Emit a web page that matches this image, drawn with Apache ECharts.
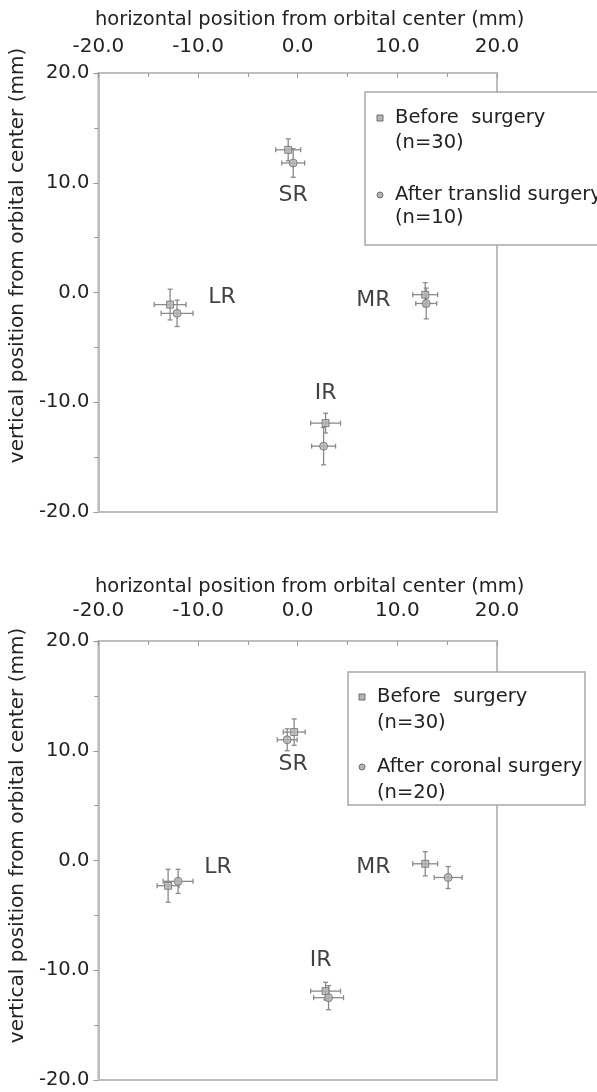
<!DOCTYPE html>
<html>
<head>
<meta charset="utf-8">
<script src="https://cdn.jsdelivr.net/npm/echarts@6/dist/echarts.min.js"></script>
<style>
html,body{margin:0;padding:0;background:#fff;}
#c{width:597px;height:1092px;}
</style>
</head>
<body>
<div id="c"></div>
<script>
// ---- data (mm) : order SR, LR, MR, IR ----
const muscles = ['SR', 'LR', 'MR', 'IR'];
const xTicks = ['-20.0', '-10.0', '0.0', '10.0', '20.0'];

// Panel 1: translid surgery
const translidBefore = [[-0.95, 13.0], [-12.8, -1.1], [12.8, -0.2], [2.8, -11.9]];
const translidBeforeErrX = [1.25, 1.6, 1.25, 1.5];
const translidBeforeErrY = [1.0, 1.4, 1.1, 0.9];
const translidAfter = [[-0.45, 11.8], [-12.1, -1.9], [12.9, -1.0], [2.6, -14.0]];
const translidAfterErrX = [1.15, 1.6, 1.05, 1.2];
const translidAfterErrY = [1.3, 1.2, 1.4, 1.7];
const translidLabelAt = [[-0.45, 8.9], [-7.6, -0.4], [7.6, -0.7], [2.8, -9.2]];

// Panel 2: coronal surgery
const coronalBefore = [[-0.35, 11.7], [-13.0, -2.3], [12.8, -0.3], [2.8, -11.9]];
const coronalBeforeErrX = [1.1, 1.1, 1.25, 1.5];
const coronalBeforeErrY = [1.2, 1.5, 1.1, 0.8];
const coronalAfter = [[-1.05, 11.0], [-12.0, -1.9], [15.1, -1.55], [3.1, -12.5]];
const coronalAfterErrX = [1.0, 1.5, 1.4, 1.5];
const coronalAfterErrY = [1.0, 1.1, 1.0, 1.1];
const coronalLabelAt = [[-0.45, 8.8], [-8.0, -0.6], [7.6, -0.6], [2.3, -9.1]];

const legend1 = ['Before  surgery', '(n=30)', 'After translid surgery', '(n=10)'];
const legend2 = ['Before  surgery', '(n=30)', 'After coronal surgery', '(n=20)'];

const xName = 'horizontal position from orbital center (mm)';
const yName = 'vertical position from orbital center (mm)';

// ---- styling ----
const FONT = "'DejaVu Sans', 'Liberation Sans', Arial, sans-serif";
const TXT = '#222';
const AXIS = '#bdbdbd';
const BAR = '#8a8a8a';
const FILL = '#b4b4b4';
const EDGE = '#6e6e6e';

function withErr(pts, ex, ey) { return pts.map((p, i) => [p[0], p[1], ex[i], ey[i]]); }

function errRender(params, api) {
  const x = api.value(0), y = api.value(1), ex = api.value(2), ey = api.value(3);
  const l = api.coord([x - ex, y]), r = api.coord([x + ex, y]);
  const t = api.coord([x, y + ey]), b = api.coord([x, y - ey]);
  const cap = 2.5;
  const st = { stroke: BAR, lineWidth: 1.3 };
  const ln = (x1, y1, x2, y2) => ({ type: 'line', shape: { x1, y1, x2, y2 }, style: st });
  return {
    type: 'group', children: [
      ln(l[0], l[1], r[0], r[1]),
      ln(t[0], t[1], b[0], b[1]),
      ln(l[0], l[1] - cap, l[0], l[1] + cap),
      ln(r[0], r[1] - cap, r[0], r[1] + cap),
      ln(t[0] - cap, t[1], t[0] + cap, t[1]),
      ln(b[0] - cap, b[1], b[0] + cap, b[1])
    ]
  };
}

const GRID_L = 98, GRID_W = 399, GRID_H = 439;
const grids = [
  { left: GRID_L, top: 73, width: GRID_W, height: GRID_H, show: true, borderColor: AXIS, borderWidth: 2, backgroundColor: '#fff' },
  { left: GRID_L, top: 641, width: GRID_W, height: GRID_H, show: true, borderColor: AXIS, borderWidth: 2, backgroundColor: '#fff' }
];

function xAxis(gi) {
  return {
    gridIndex: gi, type: 'value', position: 'top', min: -20, max: 20, interval: 10,
    name: xName, nameLocation: 'middle', nameGap: gi === 0 ? 43 : 44,
    nameTextStyle: { fontFamily: FONT, fontSize: 19.5, color: TXT, padding: [0, 0, 0, 24] },
    axisLine: { show: true, onZero: false, lineStyle: { color: AXIS, width: 2 } },
    axisTick: { show: true, inside: true, length: 5, lineStyle: { color: '#999' } },
    minorTick: { show: true, splitNumber: 2, length: 4, lineStyle: { color: '#999' } },
    splitLine: { show: false },
    axisLabel: { fontFamily: FONT, fontSize: 20, color: TXT, margin: gi === 0 ? 16 : 20,
      formatter: v => xTicks[Math.round((v + 20) / 10)] }
  };
}
function yAxis(gi) {
  return {
    gridIndex: gi, type: 'value', min: -20, max: 20, interval: 10,
    name: yName, nameLocation: 'middle', nameGap: 66,
    nameTextStyle: { fontFamily: FONT, fontSize: 20, color: TXT, padding: [0, 0, 0, gi === 0 ? 74 : 50] },
    axisLine: { show: true, onZero: false, lineStyle: { color: AXIS, width: 2 } },
    axisTick: { show: true, inside: false, length: 5, lineStyle: { color: '#999' } },
    minorTick: { show: true, splitNumber: 2, length: 4, lineStyle: { color: '#999' } },
    splitLine: { show: false },
    axisLabel: { fontFamily: FONT, fontSize: 19.5, color: TXT, margin: 9, formatter: v => v.toFixed(1) }
  };
}

function panelSeries(gi, before, bex, bey, after, aex, aey, labelAt) {
  return [
    { type: 'custom', xAxisIndex: gi, yAxisIndex: gi, renderItem: errRender, data: withErr(before, bex, bey), z: 2, silent: true },
    { type: 'custom', xAxisIndex: gi, yAxisIndex: gi, renderItem: errRender, data: withErr(after, aex, aey), z: 2, silent: true },
    { type: 'scatter', xAxisIndex: gi, yAxisIndex: gi, data: before, symbol: 'rect', symbolSize: 7, z: 3,
      itemStyle: { color: FILL, borderColor: EDGE, borderWidth: 1 } },
    { type: 'scatter', xAxisIndex: gi, yAxisIndex: gi, data: after, symbol: 'circle', symbolSize: 8, z: 3,
      itemStyle: { color: FILL, borderColor: EDGE, borderWidth: 1 } },
    { type: 'scatter', xAxisIndex: gi, yAxisIndex: gi, symbolSize: 0, z: 4,
      data: labelAt.map((p, i) => ({ value: p, name: muscles[i] })),
      label: { show: true, position: 'inside', formatter: '{b}', fontFamily: FONT, fontSize: 22, color: '#111' } }
  ];
}

function legendBox(x, y, w, h, lines, lineYs, iconX, textX) {
  const els = [
    { type: 'rect', shape: { x, y, width: w, height: h }, style: { fill: '#fff', stroke: '#a8a8a8', lineWidth: 1.5 }, z: 10 },
    { type: 'rect', shape: { x: iconX - 3, y: lineYs[0] - 3, width: 6, height: 6 }, style: { fill: FILL, stroke: EDGE, lineWidth: 1 }, z: 11 },
    { type: 'circle', shape: { cx: iconX, cy: lineYs[2], r: 3 }, style: { fill: FILL, stroke: EDGE, lineWidth: 1 }, z: 11 }
  ];
  lines.forEach((t, i) => els.push({
    type: 'text', x: textX, y: lineYs[i], z: 11,
    style: { text: t, fontFamily: FONT, fontSize: 19.5, fill: TXT, verticalAlign: 'middle', align: 'left' }
  }));
  return els;
}

const chart = echarts.init(document.getElementById('c'), null, { renderer: 'canvas' });
chart.setOption({
  animation: false,
  backgroundColor: '#fff',
  grid: grids,
  xAxis: [xAxis(0), xAxis(1)],
  yAxis: [yAxis(0), yAxis(1)],
  series: [
    ...panelSeries(0, translidBefore, translidBeforeErrX, translidBeforeErrY, translidAfter, translidAfterErrX, translidAfterErrY, translidLabelAt),
    ...panelSeries(1, coronalBefore, coronalBeforeErrX, coronalBeforeErrY, coronalAfter, coronalAfterErrX, coronalAfterErrY, coronalLabelAt)
  ],
  graphic: [
    ...legendBox(365, 92, 260, 153, legend1, [118, 143, 195, 218], 380, 395),
    ...legendBox(348, 672, 237, 133, legend2, [697, 723, 767, 793], 362, 377)
  ]
});
</script>
</body>
</html>
